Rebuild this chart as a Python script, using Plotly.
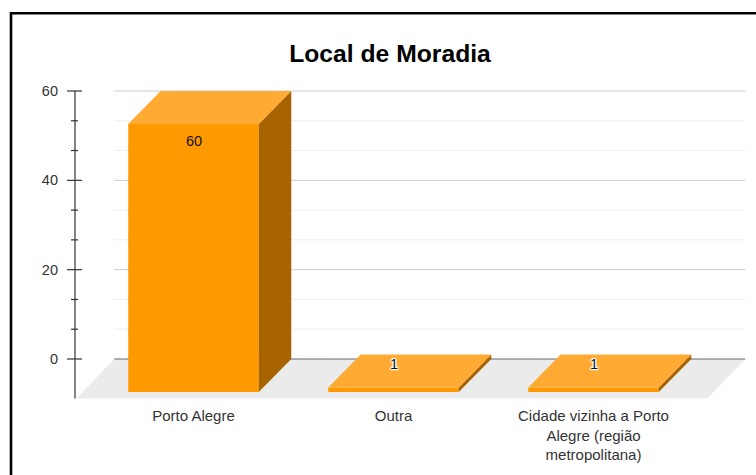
import plotly.graph_objects as go

title = "Local de Moradia"
categories = ["Porto Alegre", "Outra", "Cidade vizinha a Porto<br>Alegre (região<br>metropolitana)"]
values = [60, 1, 1]
major_ticks = [0, 20, 40, 60]
minor_ticks = [6.67, 13.33, 26.67, 33.33, 46.67, 53.33]

W, H = 756, 475
L, R, T, B = 60, 750, 85, 400
PX_X, X0 = 200.0, 193.5
PX_Y, Y0 = 268 / 60, 359
BAR_W = 0.6525
DX, DY = 0.1625, 7.4
FLOOR_DX, FLOOR_DY = 0.19, 8.86
BACK_L, BACK_R = -0.396, 2.759
AXIS_X = (75 - X0) / PX_X
FRONT, TOP, SIDE = "#FF9900", "#FFAA33", "#A66300"
FONT = "Liberation Sans"

xs = list(range(len(categories)))
fig = go.Figure()

fig.add_trace(go.Bar(x=xs, y=values, base=-DY, width=BAR_W, marker=dict(color=FRONT, line_width=0), hoverinfo="skip"))

for x, v in zip(xs, values):
    l, r = x - BAR_W / 2, x + BAR_W / 2
    fig.add_trace(go.Scatter(x=[r, r + DX, r + DX, r, r], y=[-DY, 0, v, v - DY, -DY], fill="toself",
                             fillcolor=SIDE, mode="none", hoverinfo="skip"))
    fig.add_trace(go.Scatter(x=[l, r, r + DX, l + DX, l], y=[v - DY, v - DY, v, v, v - DY], fill="toself",
                             fillcolor=TOP, mode="none", hoverinfo="skip"))

# y axis line and tick marks
tx, ty = [AXIS_X, AXIS_X], [-FLOOR_DY, max(major_ticks)]
for t in major_ticks:
    tx += [None, AXIS_X - 0.04, AXIS_X + 0.035]
    ty += [None, t, t]
for t in minor_ticks:
    tx += [None, AXIS_X - 0.02, AXIS_X + 0.015]
    ty += [None, t, t]
fig.add_trace(go.Scatter(x=tx, y=ty, mode="lines", line=dict(color="#333333", width=1.2), hoverinfo="skip"))

shapes = []
fl = BACK_L - FLOOR_DX
fr = BACK_R - FLOOR_DX
shapes.append(dict(type="path", layer="below", xref="x", yref="y", line_width=0, fillcolor="#EBEBEB",
                   path=f"M {BACK_L} 0 L {BACK_R} 0 L {fr} {-FLOOR_DY} L {fl} {-FLOOR_DY} Z"))
for t in minor_ticks:
    shapes.append(dict(type="line", layer="below", xref="x", yref="y", x0=BACK_L, x1=BACK_R, y0=t, y1=t,
                       line=dict(color="#EEEEEE", width=1)))
for t in major_ticks:
    shapes.append(dict(type="line", layer="below", xref="x", yref="y", x0=BACK_L, x1=BACK_R, y0=t, y1=t,
                       line=dict(color="#666666" if t == 0 else "#CCCCCC", width=1)))

# frame, running off the right and bottom of the page
fx = lambda px: (px - L) / (R - L)
fy = lambda py: (B - py) / (B - T)
shapes.append(dict(type="rect", layer="above", xref="paper", yref="paper", x0=fx(11), x1=fx(W + 20),
                   y0=fy(H + 20), y1=fy(13.3), line=dict(color="#000000", width=2.6)))

annotations = []
halo = ", ".join(f"{a}px {b}px 1px #fff" for a, b in [(1, 0), (-1, 0), (0, 1), (0, -1), (1, 1), (-1, -1), (1, -1), (-1, 1)])
for x, v in zip(xs, values):
    inside = v > 20
    annotations.append(dict(x=x, y=v - DY, xref="x", yref="y", text=str(v), showarrow=False,
                            yshift=-17 if inside else 23.5, yanchor="middle",
                            font=dict(family=FONT, size=14.5, color="#111111",
                                      shadow="none" if inside else halo)))

fig.update_layout(
    width=W, height=H, autosize=False, showlegend=False,
    paper_bgcolor="#FFFFFF", plot_bgcolor="rgba(0,0,0,0)",
    margin=dict(l=L, r=W - R, t=T, b=H - B, autoexpand=False),
    title=dict(text=f"<b>{title}</b>", x=390 / W, xanchor="center", y=1 - 53 / H, yanchor="middle",
               font=dict(family=FONT, size=24.7, color="#000000")),
    xaxis=dict(range=[(L - X0) / PX_X, (R - X0) / PX_X], tickmode="array", tickvals=xs, ticktext=categories,
               showgrid=False, zeroline=False, showline=False, ticks="", ticklabelstandoff=5, tickangle=0,
               tickfont=dict(family=FONT, size=15, color="#333333")),
    yaxis=dict(range=[(Y0 - B) / PX_Y, (Y0 - T) / PX_Y], tickmode="array", tickvals=major_ticks,
               showgrid=False, zeroline=False, showline=False, ticks="", ticklabelstandoff=1,
               tickfont=dict(family=FONT, size=14.5, color="#333333")),
    shapes=shapes, annotations=annotations,
)
fig.write_html("out.html", config=dict(displayModeBar=False, responsive=False),
               post_script="document.body.style.margin='0';document.documentElement.style.overflow='hidden';")
